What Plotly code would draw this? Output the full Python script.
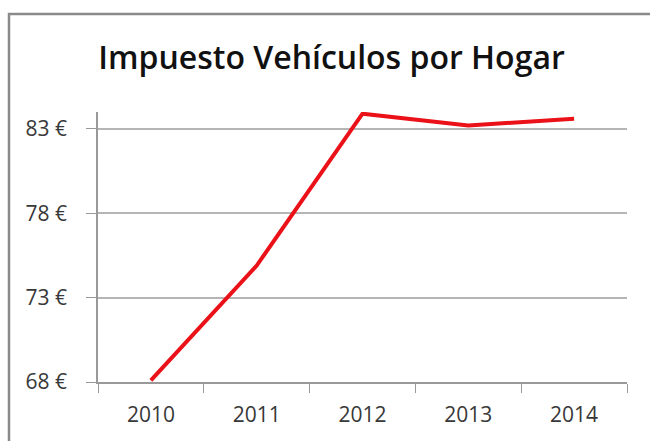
import plotly.graph_objects as go

years = ["2010", "2011", "2012", "2013", "2014"]
values = [68.1, 74.9, 83.9, 83.2, 83.6]
ytick_vals = [68, 73, 78, 83]
ytick_text = ["68 €", "73 €", "78 €", "83 €"]
title = "Impuesto Vehículos por Hogar"

fig = go.Figure()
fig.add_trace(go.Scatter(x=years, y=values, mode="lines",
                         line=dict(color="#ea1118", width=4)))

L, R, T, B = 98, 23, 112, 59
fig.update_layout(
    width=650, height=441,
    margin=dict(l=L, r=R, t=T, b=B),
    paper_bgcolor="white", plot_bgcolor="white",
    showlegend=False,
    title=dict(text=title, x=0.51, xanchor="center", y=1 - 58 / 441, yanchor="middle",
               font=dict(family="Open Sans", size=32, weight=600, color="#111111")),
    font=dict(family="Open Sans", color="#444444"),
)
fig.update_xaxes(
    type="category", range=[-0.5, 4.5], showgrid=False, showline=True,
    linecolor="#999999", linewidth=1.5,
    ticks="outside", tickson="boundaries", ticklen=9, tickcolor="#999999",
    tickfont=dict(size=21, color="#383838"), ticklabelstandoff=13,
)
fig.update_yaxes(
    range=[68, 84], tickvals=ytick_vals, ticktext=ytick_text,
    showgrid=True, gridcolor="#b5b5b5", gridwidth=1.5,
    showline=True, linecolor="#999999", linewidth=1.5,
    ticks="outside", ticklen=10, tickcolor="#999999",
    tickfont=dict(size=21, color="#383838"), zeroline=False, ticklabelstandoff=15,
)
pw, ph = 650 - L - R, 441 - T - B
fig.add_shape(type="rect", xref="paper", yref="paper",
              x0=(9 - L) / pw, x1=(700 - L) / pw,
              y0=(441 - B - 500) / ph, y1=(441 - B - 14) / ph,
              line=dict(color="#8a8a8a", width=2.5), fillcolor="rgba(0,0,0,0)", layer="below")

fig.write_html("out.html", config={"displayModeBar": False},
               post_script="document.body.style.margin='0';document.body.style.overflow='hidden';")
